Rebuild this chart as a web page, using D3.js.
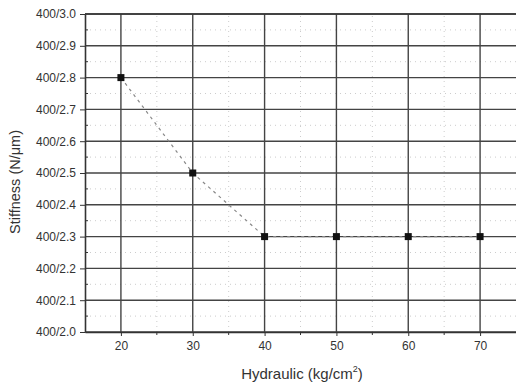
<!DOCTYPE html>
<html>
<head>
<meta charset="utf-8">
<script src="https://cdn.jsdelivr.net/npm/d3@7"></script>
<style>
  body { margin: 0; background: #fff; }
  text { font-family: "Liberation Sans", Arial, sans-serif; fill: #333; }
</style>
</head>
<body>
<div id="chart"></div>
<script>
// data
var hydraulic = [20, 30, 40, 50, 60, 70];
var stiffness = [2.8, 2.5, 2.3, 2.3, 2.3, 2.3];
var xTicks = [20, 30, 40, 50, 60, 70];
var yTicks = [2.0, 2.1, 2.2, 2.3, 2.4, 2.5, 2.6, 2.7, 2.8, 2.9, 3.0];

var width = 516, height = 385;
var margin = {left: 85, top: 14, right: 0, bottom: 53};

var x = d3.scaleLinear().domain([15, 75]).range([margin.left, width - margin.right]);
var y = d3.scaleLinear().domain([2.0, 3.0]).range([height - margin.bottom, margin.top]);

var svg = d3.select('#chart')
    .append('svg')
    .attr('width', width)
    .attr('height', height);

// minor dotted grid
var xMinor = d3.range(25, 75, 10);
var yMinor = d3.range(2.05, 3.0, 0.1);
svg.append('g').selectAll('line')
    .data(xMinor)
    .enter()
    .append('line')
    .attr('x1', d => x(d)).attr('x2', d => x(d))
    .attr('y1', y(2.0)).attr('y2', y(3.0))
    .attr('stroke', '#ccc')
    .attr('stroke-dasharray', '1,4');
svg.append('g').selectAll('line')
    .data(yMinor)
    .enter()
    .append('line')
    .attr('x1', x(15)).attr('x2', x(75))
    .attr('y1', d => y(d)).attr('y2', d => y(d))
    .attr('stroke', '#ccc')
    .attr('stroke-dasharray', '1,4');

// major grid
svg.append('g').selectAll('line')
    .data(xTicks)
    .enter()
    .append('line')
    .attr('x1', d => x(d)).attr('x2', d => x(d))
    .attr('y1', y(2.0)).attr('y2', y(3.0))
    .attr('stroke', '#444')
    .attr('stroke-width', 1.4);
svg.append('g').selectAll('line')
    .data(yTicks)
    .enter()
    .append('line')
    .attr('x1', x(15)).attr('x2', x(75))
    .attr('y1', d => y(d)).attr('y2', d => y(d))
    .attr('stroke', '#444')
    .attr('stroke-width', 1.4);

// axes
var xAxis = svg.append('g')
    .attr('transform', 'translate(0,' + y(2.0) + ')')
    .call(d3.axisBottom(x).tickValues(xTicks).tickSize(4).tickSizeOuter(0).tickPadding(5));
var yAxis = svg.append('g')
    .attr('transform', 'translate(' + x(15) + ',0)')
    .call(d3.axisLeft(y).tickValues(yTicks).tickSize(5).tickSizeOuter(0).tickPadding(4)
        .tickFormat(d => '400/' + d.toFixed(1)));

// minor ticks
svg.append('g').selectAll('line')
    .data(xMinor)
    .enter()
    .append('line')
    .attr('x1', d => x(d)).attr('x2', d => x(d))
    .attr('y1', y(2.0)).attr('y2', y(2.0) + 3)
    .attr('stroke', '#333');
svg.append('g').selectAll('line')
    .data(yMinor)
    .enter()
    .append('line')
    .attr('x1', x(15)).attr('x2', x(15) + 3)
    .attr('y1', d => y(d)).attr('y2', d => y(d))
    .attr('stroke', '#333');

[xAxis, yAxis].forEach(function (a) {
    a.select('.domain').attr('stroke', '#333').attr('stroke-width', 1.6);
    a.selectAll('.tick line').attr('stroke', '#333');
    a.selectAll('text').style('font-size', '12px').attr('fill', '#333');
});

// top border
svg.append('line')
    .attr('x1', x(15)).attr('x2', x(75))
    .attr('y1', y(3.0)).attr('y2', y(3.0))
    .attr('stroke', '#333').attr('stroke-width', 1.6);

// data line and markers
var pts = hydraulic.map((h, i) => [h, stiffness[i]]);
svg.append('path')
    .datum(pts)
    .attr('d', d3.line().x(d => x(d[0])).y(d => y(d[1])))
    .attr('fill', 'none')
    .attr('stroke', '#888')
    .attr('stroke-width', 1.2)
    .attr('stroke-dasharray', '3,4');
svg.append('g').selectAll('rect')
    .data(pts)
    .enter()
    .append('rect')
    .attr('x', d => x(d[0]) - 3.5)
    .attr('y', d => y(d[1]) - 3.5)
    .attr('width', 7)
    .attr('height', 7)
    .attr('fill', '#111');

// axis titles
var xt = svg.append('text')
    .attr('x', 302)
    .attr('y', 379)
    .attr('text-anchor', 'middle')
    .style('font-size', '15px');
xt.append('tspan').text('Hydraulic (kg/cm');
xt.append('tspan').text('2').attr('dy', -7).style('font-size', '9px');
xt.append('tspan').text(')').attr('dy', 7);

svg.append('text')
    .attr('transform', 'translate(20,182) rotate(-90)')
    .attr('text-anchor', 'middle')
    .style('font-size', '14.5px')
    .text('Stiffness (N/\u03bcm)');
</script>
</body>
</html>
